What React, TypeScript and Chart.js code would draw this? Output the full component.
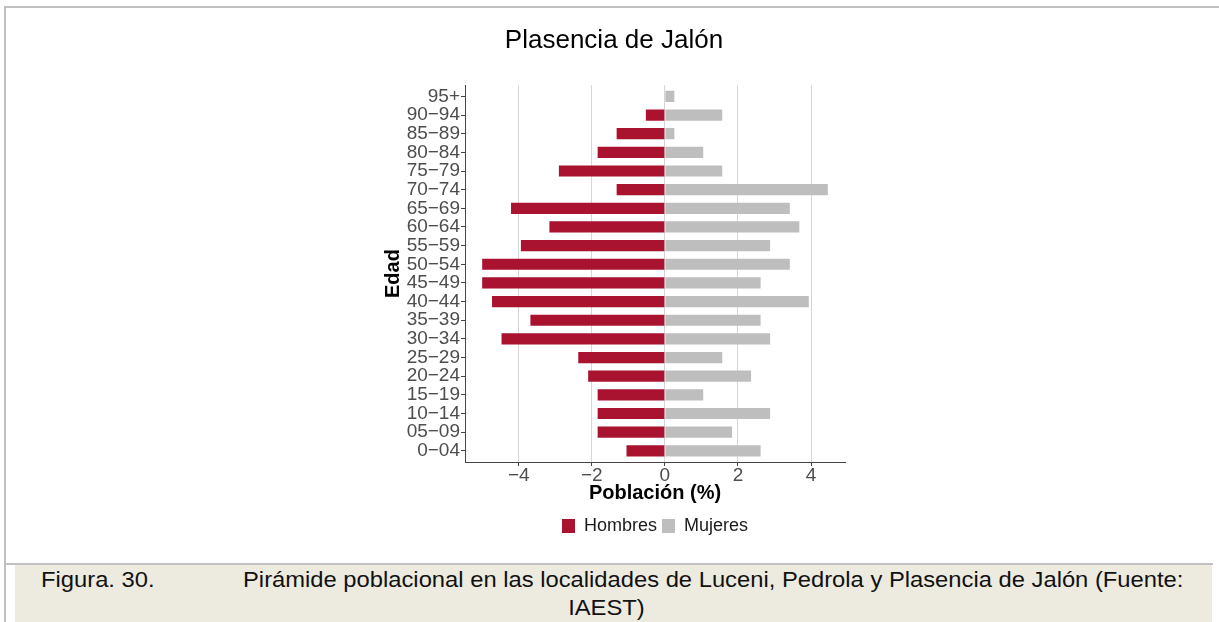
import React, { useEffect, useRef } from 'react';
import { Chart, registerables } from 'chart.js';

Chart.register(...registerables);

// ---- data (bottom to top) ----
const categories = ['0-04', '05-09', '10-14', '15-19', '20-24', '25-29', '30-34', '35-39', '40-44', '45-49', '50-54', '55-59', '60-64', '65-69', '70-74', '75-79', '80-84', '85-89', '90-94', '95+'];
const hombres = [-1.05, -1.84, -1.84, -1.84, -2.1, -2.37, -4.47, -3.68, -4.73, -5.0, -5.0, -3.94, -3.16, -4.21, -1.32, -2.9, -1.84, -1.32, -0.52, 0];
const mujeres = [2.62, 1.84, 2.88, 1.05, 2.36, 1.57, 2.88, 2.62, 3.94, 2.62, 3.42, 2.88, 3.68, 3.42, 4.46, 1.57, 1.05, 0.26, 1.57, 0.26];
const xTickValues = [-4, -2, 0, 2, 4];
const seriesNames = ['Hombres', 'Mujeres'];
const chartTitle = 'Plasencia de Jalón';
const xTitle = 'Población (%)';
const yTitle = 'Edad';
const captionLabel = 'Figura. 30.';
const captionLine1 = 'Pirámide poblacional en las localidades de Luceni, Pedrola y Plasencia de Jalón (Fuente:';
const captionLine2 = 'IAEST)';

const RED = '#A9132F';
const GREY = '#BEBEBE';
const FONT = '"Liberation Sans", Arial, Helvetica, sans-serif';

export default function App() {
  const ref = useRef<HTMLCanvasElement>(null);

  useEffect(() => {
    if (!ref.current) return;
    const n = categories.length;
    const chart = new Chart(ref.current, {
      type: 'bar',
      data: {
        datasets: [
          {
            label: seriesNames[0],
            data: hombres.map((v, i) => ({ x: v, y: i })),
            backgroundColor: RED,
            borderWidth: 0,
            grouped: false,
            categoryPercentage: 1,
            barPercentage: 0.6,
          } as any,
          {
            label: seriesNames[1],
            data: mujeres.map((v, i) => ({ x: v, y: i })),
            backgroundColor: GREY,
            borderWidth: 0,
            grouped: false,
            categoryPercentage: 1,
            barPercentage: 0.6,
          } as any,
        ],
      },
      options: {
        indexAxis: 'y',
        animation: false,
        responsive: false,
        devicePixelRatio: 1,
        layout: { padding: { left: 383, right: 374, top: 0, bottom: 19 } },
        plugins: {
          tooltip: { enabled: false },
          title: {
            display: true,
            text: chartTitle,
            color: '#000',
            font: { family: FONT, size: 26, weight: 'normal', lineHeight: 1.2 },
            padding: { top: 25, bottom: 29 },
          },
          legend: {
            position: 'bottom',
            fullSize: false,
            labels: {
              color: '#1A1A1A',
              font: { family: FONT, size: 18 },
              boxWidth: 13,
              boxHeight: 14,
              padding: 5,
            },
          },
        },
        scales: {
          x: {
            type: 'linear',
            offset: false,
            min: -5.47,
            max: 4.93,
            afterBuildTicks: (axis: any) => {
              axis.ticks = xTickValues.map((v) => ({ value: v }));
            },
            afterFit: (scale: any) => {
              scale.height = 50;
            },
            grid: { color: '#D6D6D6', lineWidth: 1, drawTicks: true, tickLength: 4, tickColor: '#444', offset: false },
            border: { display: true, color: '#444', width: 1 },
            ticks: {
              color: '#4D4D4D',
              font: { family: FONT, size: 19, lineHeight: 1 },
              padding: 0,
              maxRotation: 0,
              callback: (v: any) => (Number(v) < 0 ? '\u2212' + Math.abs(Number(v)) : String(v)),
            },
            title: {
              display: true,
              text: xTitle,
              color: '#000',
              font: { family: FONT, size: 20, weight: 'bold', lineHeight: 1.2 },
              padding: { top: 0, bottom: 7 },
            },
          },
          y: {
            type: 'linear',
            offset: false,
            min: -0.6,
            max: n - 1 + 0.6,
            afterBuildTicks: (axis: any) => {
              axis.ticks = categories.map((_, i) => ({ value: i }));
            },
            afterFit: (scale: any) => {
              scale.width = 82;
            },
            grid: { color: 'rgba(0,0,0,0)', drawTicks: true, tickLength: 4, tickColor: '#444', offset: false },
            border: { display: true, color: '#444', width: 1 },
            ticks: {
              color: '#4D4D4D',
              font: { family: FONT, size: 19, lineHeight: 1 },
              padding: 1,
              autoSkip: false,
              callback: (v: any) => {
                const c = categories[Math.round(Number(v))];
                return c ? c.replace('-', '\u2212') : '';
              },
            },
            title: {
              display: true,
              text: yTitle,
              color: '#000',
              font: { family: FONT, size: 20, weight: 'bold', lineHeight: 1 },
              padding: { top: 0, bottom: 0 },
            },
          },
        },
      } as any,
    });
    return () => chart.destroy();
  }, []);

  const line = (style: React.CSSProperties) => (
    <div style={{ position: 'absolute', background: '#C0C0C0', ...style }} />
  );

  const capText: React.CSSProperties = {
    position: 'absolute',
    top: 0,
    whiteSpace: 'nowrap',
    transform: 'scaleX(1.08)',
    transformOrigin: 'left top',
  };

  return (
    <div style={{ position: 'absolute', left: 0, top: 0, width: 1219, height: 622, background: '#fff', overflow: 'hidden' }}>
      <canvas ref={ref} width={1219} height={564} style={{ position: 'absolute', left: 0, top: 0, width: 1219, height: 564 }} />
      {line({ left: 4, top: 6, width: 1215, height: 2 })}
      {line({ left: 4, top: 6, width: 2, height: 616 })}
      {line({ left: 6, top: 563, width: 1207, height: 2 })}
      <div style={{ position: 'absolute', left: 15, top: 565, width: 1197, height: 57, background: '#EDEBE0' }} />
      <div style={{ position: 'absolute', left: 0, top: 566, width: 1219, fontFamily: FONT, fontSize: 22, lineHeight: '28px', color: '#111' }}>
        <div style={{ ...capText, left: 41 }}>{captionLabel}</div>
        <div style={{ ...capText, left: 243 }}>{captionLine1}</div>
        <div style={{ position: 'absolute', left: 456, top: 28, width: 300, textAlign: 'center', whiteSpace: 'nowrap' }}>
          <span style={{ display: 'inline-block', transform: 'scaleX(1.08)' }}>{captionLine2}</span>
        </div>
      </div>
    </div>
  );
}
